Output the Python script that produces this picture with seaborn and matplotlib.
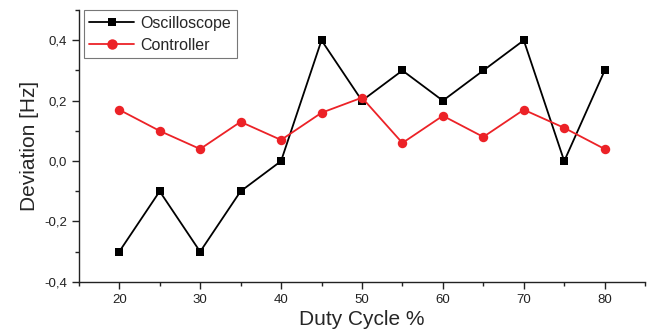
import matplotlib
matplotlib.use("Agg")
import matplotlib.pyplot as plt
from matplotlib.ticker import FuncFormatter, MultipleLocator
import pandas as pd
import seaborn as sns

duty_cycle = [20, 25, 30, 35, 40, 45, 50, 55, 60, 65, 70, 75, 80]
oscilloscope = [-0.3, -0.1, -0.3, -0.1, 0.0, 0.4, 0.2, 0.3, 0.2, 0.3, 0.4, 0.0, 0.3]
controller = [0.17, 0.10, 0.04, 0.13, 0.07, 0.16, 0.21, 0.06, 0.15, 0.08, 0.17, 0.11, 0.04]

sns.set_style("ticks")
plt.rcParams['font.family'] = ['Liberation Sans', 'DejaVu Sans']

df = pd.DataFrame({"duty": duty_cycle, "Oscilloscope": oscilloscope, "Controller": controller})
df = df.melt("duty", var_name="source", value_name="dev")

fig = plt.figure(figsize=(6.51, 3.36), dpi=100)
ax = fig.add_axes([0.121, 0.161, 0.870, 0.809])

sns.lineplot(data=df, x="duty", y="dev", hue="source", style="source",
             palette={"Oscilloscope": "black", "Controller": "#ec2227"},
             markers={"Oscilloscope": "s", "Controller": "o"},
             dashes=False, markersize=5.5, markeredgewidth=0, linewidth=1.3, ax=ax)

# circles look a bit bigger than the squares in the original
for ln in ax.lines:
    if ln.get_marker() == "o":
        ln.set_markersize(6.8)

ax.set_xlim(15, 85)
ax.set_ylim(-0.4, 0.5)
ax.xaxis.set_major_locator(MultipleLocator(10))
ax.xaxis.set_minor_locator(MultipleLocator(5))
ax.yaxis.set_major_locator(MultipleLocator(0.2))
ax.yaxis.set_minor_locator(MultipleLocator(0.1))
ax.yaxis.set_major_formatter(FuncFormatter(lambda v, p: f"{v:.1f}".replace(".", ",")))
ax.tick_params(which="major", length=5, width=1, labelsize=9.5, colors="#222222")
ax.tick_params(which="minor", length=3, width=1, color="#222222")
for s in ["left", "bottom"]:
    ax.spines[s].set_linewidth(1)
    ax.spines[s].set_color("#222222")
sns.despine(ax=ax)

ax.set_xlabel("Duty Cycle %", fontsize=15, labelpad=3)
ax.set_ylabel("Deviation [Hz]", fontsize=15, labelpad=4)

leg = ax.legend(loc="upper left", bbox_to_anchor=(0.009, 1.0), fontsize=11.5,
                frameon=True, fancybox=False, edgecolor="#555555",
                borderaxespad=0, handlelength=2.8, borderpad=0.35,
                labelspacing=0.45, handletextpad=0.4, markerscale=1.1)
leg.get_frame().set_linewidth(0.8)
for h in leg.legend_handles:
    if h.get_marker() == "o":
        h.set_markersize(7.5)

fig.savefig("out.png", dpi=100)
